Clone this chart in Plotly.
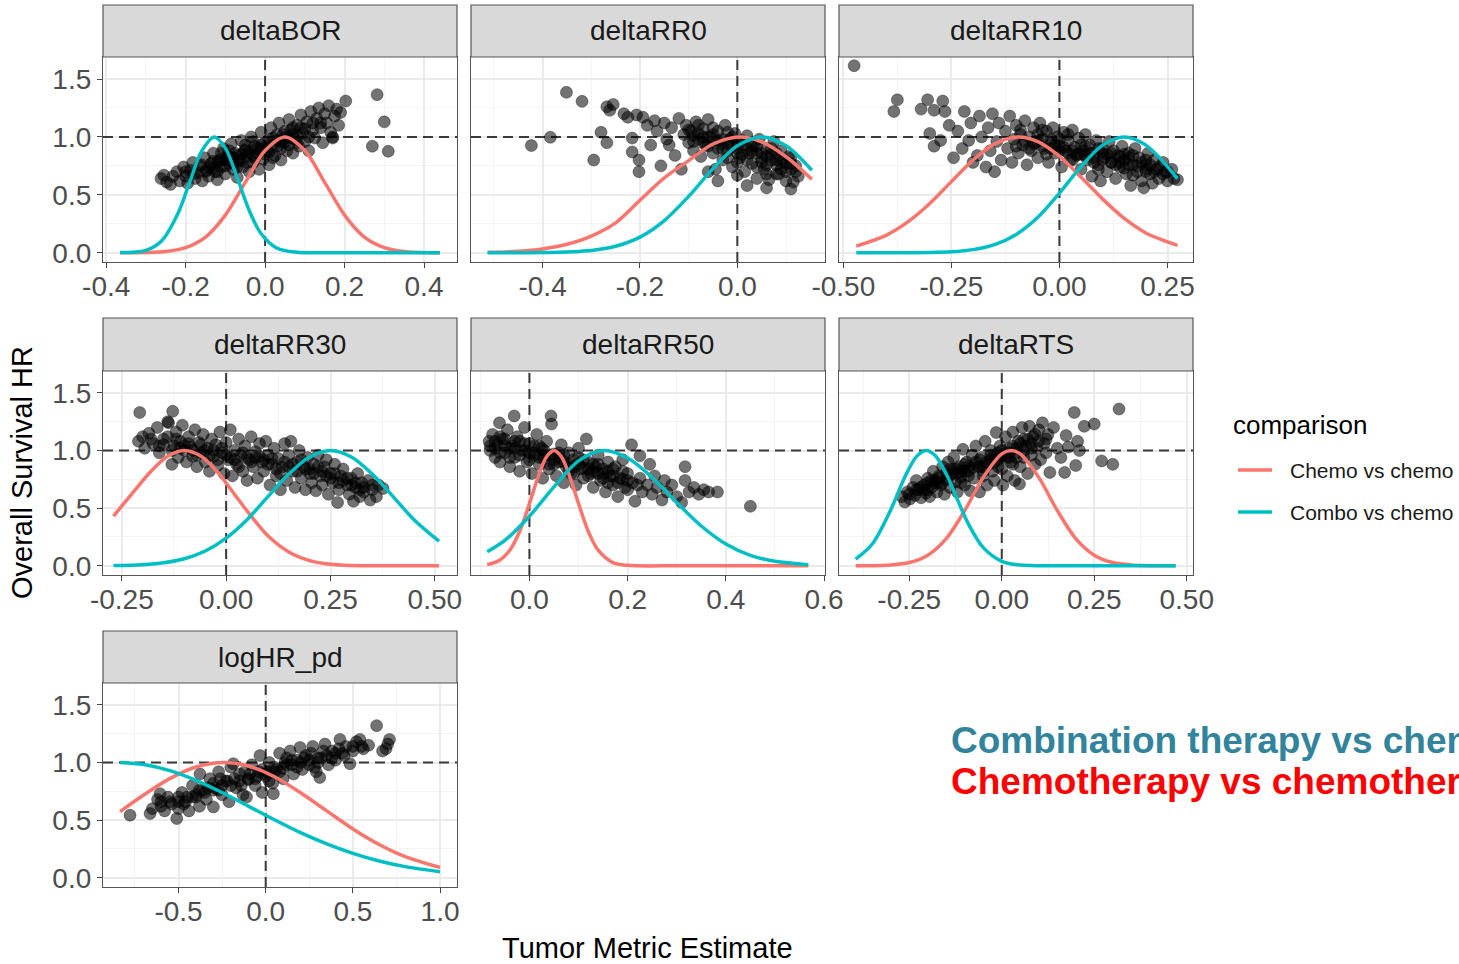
import plotly.graph_objects as go

W, H = 1459, 964
FONT = "Liberation Sans, Arial, sans-serif"
RED = "#F8766D"
TEAL = "#00BFC4"

PANELS = ["deltaBOR", "deltaRR0", "deltaRR10", "deltaRR30", "deltaRR50", "deltaRTS", "logHR_pd"]
SERIES = ["Chemo vs chemo", "Combo vs chemo"]
REF_X = 0.0    # vertical dashed reference (metric = 0)
REF_HR = 1.0   # horizontal dashed reference (HR = 1)

# ---------------- scatter points (x, HR) ----------------
BOR_POINTS = [(-0.262,0.64),(-0.255,0.67),(-0.248,0.61),(-0.238,0.59),(-0.232,0.66),(-0.222,0.70),(-0.215,0.62),(-0.205,0.74),(-0.2,0.66),(-0.195,0.60),
    (-0.188,0.71),(-0.182,0.78),(-0.176,0.64),(-0.17,0.69),(-0.165,0.75),(-0.158,0.62),(-0.152,0.82),(-0.148,0.71),(-0.142,0.66),(-0.136,0.77),
    (-0.13,0.86),(-0.126,0.70),(-0.12,0.63),(-0.115,0.80),(-0.11,0.74),(-0.105,0.90),(-0.1,0.68),(-0.096,0.84),(-0.09,0.77),(-0.085,0.94),
    (-0.08,0.72),(-0.076,0.86),(-0.07,0.65),(-0.066,0.80),(-0.06,0.97),(-0.056,0.74),(-0.05,0.89),(-0.046,0.83),(-0.04,0.70),(-0.035,1.00),
    (-0.03,0.78),(-0.026,0.92),(-0.02,0.86),(-0.015,0.72),(-0.01,1.04),(-0.005,0.81),(0.0,0.95),(0.005,0.88),(0.01,0.76),(0.015,1.08),
    (0.02,0.99),(0.025,0.84),(0.03,0.92),(0.035,1.12),(0.04,0.80),(0.045,1.02),(0.05,0.95),(0.055,0.88),(0.06,1.15),(0.065,1.06),
    (0.07,0.86),(0.075,0.98),(0.08,1.10),(0.085,0.92),(0.09,1.19),(0.095,1.03),(0.1,0.96),(0.105,1.13),(0.11,0.88),(0.115,1.22),
    (0.12,1.06),(0.125,0.99),(0.13,1.16),(0.135,1.25),(0.14,1.08),(0.145,0.95),(0.15,1.20),(0.155,1.12),(0.16,1.27),(0.165,1.04),
    (0.17,1.00),(0.175,1.18),(0.18,1.24),(0.185,1.10),(0.19,1.21),(0.203,1.31),(0.17,0.99),(0.282,1.365),(0.30,1.13),(0.27,0.92),(0.31,0.876),
    (-0.14,0.74),(-0.12,0.78),(-0.1,0.80),(-0.08,0.82),(-0.06,0.85),(-0.04,0.87),(-0.02,0.90),(0.0,0.91),(0.02,0.93),(0.04,0.96),(0.06,0.99),
    (0.08,1.01),(-0.13,0.73),(-0.09,0.83),(-0.05,0.88),(-0.01,0.93),(0.03,0.97),(0.07,1.02),(-0.11,0.86),(-0.07,0.74),(-0.03,0.84),(0.01,0.87),
    (0.05,1.05),(0.09,1.08)]
BOR_CORE = [(-0.2,0.70),(-0.18,0.68),(-0.16,0.76),(-0.15,0.70),(-0.13,0.79),(-0.12,0.70),(-0.11,0.80),(-0.1,0.75),(-0.09,0.88),(-0.08,0.78),
    (-0.07,0.84),(-0.06,0.79),(-0.05,0.93),(-0.045,0.78),(-0.03,0.96),(-0.025,0.82),(-0.01,0.89),(0.0,0.85),(0.01,0.98),(0.02,0.82),
    (0.03,1.02),(0.04,0.90),(0.05,0.99),(0.06,0.93),(0.07,1.08),(0.08,0.95),(0.1,1.07),(0.11,1.00),(0.12,1.12),(0.14,1.12)]

RR0_POINTS = [(-0.423,0.925),(-0.384,0.997),(-0.351,1.385),(-0.319,1.307),(-0.295,0.80),(-0.28,1.04),(-0.268,0.95),(-0.268,1.26),(-0.262,1.23),(-0.255,1.28),
    (-0.233,1.20),(-0.225,1.17),(-0.216,0.99),(-0.216,0.87),(-0.207,1.19),(-0.202,0.80),(-0.202,0.70),(-0.194,1.17),(-0.185,1.10),(-0.178,0.93),
    (-0.17,1.14),(-0.165,1.05),(-0.157,0.75),(-0.15,1.12),(-0.145,0.98),(-0.14,0.93),(-0.135,1.08),(-0.128,0.84),(-0.12,1.16),(-0.115,0.72),(-0.11,1.02),
    (-0.105,1.10),(-0.1,0.95),(-0.095,1.05),(-0.09,0.88),(-0.085,1.13),(-0.08,0.98),(-0.075,0.83),(-0.07,1.07),(-0.065,0.93),(-0.06,1.15),
    (-0.055,1.00),(-0.05,0.86),(-0.045,0.72),(-0.04,1.05),(-0.035,0.94),(-0.03,0.80),(-0.025,1.10),(-0.02,0.88),(-0.015,0.98),(-0.01,0.74),
    (-0.005,1.03),(0.0,0.90),(0.0,0.67),(0.005,0.82),(0.01,0.97),(0.015,0.70),(0.02,1.01),(0.025,0.86),(0.03,0.77),(0.035,0.93),
    (0.04,0.64),(0.045,0.98),(0.05,0.82),(0.055,0.72),(0.06,0.90),(0.065,0.63),(0.07,0.85),(0.075,0.96),(0.08,0.76),(0.085,0.68),
    (0.09,0.88),(0.095,0.80),(0.1,0.62),(0.105,0.83),(0.11,0.72),(0.115,0.61),(0.12,0.75),(0.125,0.66),(-0.06,0.70),(-0.04,0.62),
    (0.02,0.58),(0.06,0.56),(0.11,0.55),(-0.08,1.03),(-0.06,1.00),(-0.04,0.97),(-0.02,0.94),(0.0,0.95),(0.02,0.90),(0.04,0.86),
    (0.06,0.83),(0.08,0.80),(0.10,0.77),(-0.07,0.95),(-0.03,0.90),(0.01,0.85),(0.05,0.78),(0.09,0.72),(-0.05,1.08),(-0.01,1.00),
    (0.03,0.92),(0.07,0.90),(0.11,0.82),(-0.09,1.01),(0.0,0.78),(0.04,0.74),(0.08,0.68)]
RR0_CORE = [(-0.1,1.06),(-0.09,0.96),(-0.08,1.10),(-0.07,1.00),(-0.06,0.92),(-0.05,1.02),(-0.04,0.90),(-0.03,0.98),(-0.02,1.04),(-0.01,0.92),
    (0.0,0.86),(0.01,0.93),(0.02,0.80),(0.03,0.88),(0.04,0.92),(0.05,0.86),(0.06,0.76),(0.07,0.80),(0.08,0.86),(0.09,0.78),
    (0.1,0.70),(0.11,0.77),(0.12,0.70),(-0.02,0.82),(0.06,0.68)]

RR10_POINTS = [(-0.475,1.615),(-0.375,1.32),(-0.383,1.22),(-0.32,1.24),(-0.305,1.32),(-0.29,1.23),(-0.27,1.31),(-0.265,1.22),(-0.3,1.03),(-0.29,0.92),
    (-0.275,0.97),(-0.255,1.10),(-0.245,0.82),(-0.235,1.05),(-0.225,0.90),(-0.22,1.22),(-0.21,0.97),(-0.205,1.12),(-0.2,0.78),(-0.19,0.84),
    (-0.185,1.18),(-0.18,1.00),(-0.17,0.74),(-0.165,1.08),(-0.16,0.88),(-0.155,1.20),(-0.15,0.70),(-0.145,0.96),(-0.14,1.12),(-0.135,0.80),
    (-0.125,1.05),(-0.12,0.90),(-0.115,1.18),(-0.11,0.78),(-0.105,0.98),(-0.1,1.10),(-0.095,0.86),(-0.09,1.02),(-0.085,0.93),(-0.08,1.14),
    (-0.075,0.76),(-0.07,1.00),(-0.065,0.88),(-0.06,1.08),(-0.055,0.95),(-0.05,0.82),(-0.045,1.12),(-0.04,0.98),(-0.035,0.90),(-0.03,1.05),
    (-0.025,0.78),(-0.02,0.94),(-0.015,1.08),(-0.01,0.86),(-0.005,1.00),(0.0,0.92),(0.005,0.74),(0.01,1.04),(0.015,0.88),(0.02,0.97),
    (0.025,0.80),(0.03,1.06),(0.035,0.91),(0.04,0.84),(0.045,0.99),(0.05,0.72),(0.055,0.88),(0.06,1.02),(0.065,0.80),(0.07,0.93),
    (0.075,0.66),(0.08,0.86),(0.085,0.97),(0.09,0.76),(0.095,0.62),(0.1,0.90),(0.105,0.82),(0.11,0.70),(0.115,0.96),(0.12,0.78),
    (0.125,0.88),(0.13,0.64),(0.135,0.84),(0.14,0.74),(0.145,0.92),(0.15,0.80),(0.155,0.68),(0.16,0.86),(0.165,0.58),(0.17,0.76),
    (0.175,0.90),(0.18,0.70),(0.185,0.82),(0.19,0.62),(0.195,0.56),(0.2,0.76),(0.205,0.86),(0.21,0.68),(0.215,0.60),(0.22,0.80),
    (0.225,0.72),(0.23,0.64),(0.24,0.78),(0.245,0.70),(0.25,0.62),(0.26,0.72),(0.265,0.64),(0.273,0.63),
    (-0.08,0.96),(-0.06,0.94),(-0.04,0.92),(-0.02,0.90),(0.0,0.88),(0.02,0.86),(0.04,0.85),(0.06,0.84),(0.08,0.82),(0.10,0.80),
    (0.12,0.78),(0.14,0.78),(0.16,0.76),(0.18,0.75),(0.2,0.72),(0.22,0.70),(-0.05,1.02),(0.0,0.98),(0.05,0.93),(0.1,0.86),
    (0.15,0.85),(0.2,0.80),(-0.03,0.85),(0.03,0.80),(0.09,0.72),(0.17,0.67)]
RR10_CORE = [(-0.1,0.92),(-0.09,1.06),(-0.07,0.90),(-0.05,0.97),(-0.04,1.06),(-0.02,0.98),(-0.01,0.93),(0.01,0.91),(0.02,1.02),(0.03,0.88),
    (0.05,0.85),(0.06,0.92),(0.07,0.86),(0.08,0.78),(0.09,0.90),(0.11,0.85),(0.12,0.86),(0.13,0.76),(0.14,0.83),(0.15,0.73),
    (0.16,0.82),(0.17,0.84),(0.19,0.78),(0.2,0.70),(0.21,0.76),(0.23,0.74),(0.24,0.68),(0.25,0.70)]

RR30_POINTS = [(-0.207,1.33),(-0.21,1.08),(-0.2,1.12),(-0.195,1.02),(-0.185,1.15),(-0.175,1.06),(-0.165,1.20),(-0.16,0.98),(-0.15,1.10),(-0.14,1.25),
    (-0.138,1.24),(-0.128,1.34),(-0.13,0.88),(-0.125,1.04),(-0.12,1.16),(-0.115,0.94),(-0.11,1.08),(-0.105,1.22),(-0.1,1.00),(-0.095,0.90),
    (-0.09,1.12),(-0.085,1.03),(-0.08,0.95),(-0.075,1.18),(-0.07,0.86),(-0.065,1.07),(-0.06,0.98),(-0.055,1.14),(-0.05,0.90),(-0.045,1.02),
    (-0.04,0.82),(-0.035,1.10),(-0.03,0.95),(-0.025,1.05),(-0.02,0.87),(-0.015,1.16),(-0.01,0.98),(-0.005,0.80),(0.0,1.07),(0.005,0.92),
    (0.01,1.18),(0.015,0.78),(0.02,1.00),(0.025,0.88),(0.03,1.10),(0.035,0.96),(0.04,0.82),(0.045,1.04),(0.05,0.74),(0.055,0.92),
    (0.06,1.12),(0.065,0.86),(0.07,0.99),(0.075,0.76),(0.08,1.06),(0.085,0.90),(0.09,0.82),(0.095,1.08),(0.1,0.96),(0.105,0.70),
    (0.11,0.88),(0.115,1.02),(0.12,0.78),(0.125,0.93),(0.13,0.66),(0.135,0.86),(0.14,1.06),(0.145,0.74),(0.15,0.96),(0.155,1.08),
    (0.16,0.82),(0.165,0.68),(0.17,0.90),(0.175,1.00),(0.18,0.76),(0.185,0.86),(0.19,0.66),(0.195,0.94),(0.2,0.80),(0.205,0.72),
    (0.21,0.88),(0.215,0.65),(0.22,0.96),(0.225,0.78),(0.23,0.70),(0.235,0.86),(0.24,0.92),(0.245,0.62),(0.25,0.80),(0.255,0.72),
    (0.26,0.88),(0.267,0.55),(0.27,0.66),(0.275,0.78),(0.28,0.84),(0.29,0.70),(0.295,0.62),(0.3,0.76),(0.305,0.56),(0.31,0.68),
    (0.315,0.80),(0.32,0.60),(0.325,0.72),(0.33,0.64),(0.34,0.74),(0.345,0.57),(0.35,0.66),(0.36,0.60),(0.365,0.70),(0.376,0.67),
    (-0.15,1.05),(-0.1,1.04),(-0.05,1.00),(0.0,0.96),(0.05,0.94),(0.1,0.88),(0.15,0.86),(0.2,0.84),(0.25,0.76),(0.3,0.70),
    (-0.12,1.10),(-0.02,0.92),(0.08,0.95),(0.18,0.92),(0.28,0.74),(-0.07,0.96),(0.03,0.86),(0.13,0.80),(0.23,0.82),(0.33,0.68)]
RR30_CORE = [(-0.18,1.10),(-0.16,1.04),(-0.14,1.12),(-0.13,1.00),(-0.11,1.02),(-0.09,1.06),(-0.08,1.00),(-0.06,1.05),(-0.04,0.96),(-0.03,1.00),
    (-0.01,1.02),(0.01,0.94),(0.02,0.92),(0.04,0.98),(0.06,0.90),(0.07,0.94),(0.09,0.92),(0.11,0.93),(0.12,0.84),(0.14,0.90),
    (0.16,0.88),(0.17,0.82),(0.19,0.84),(0.21,0.80),(0.22,0.86),(0.24,0.78),(0.26,0.80),(0.27,0.72),(0.29,0.76),(0.31,0.72),
    (0.32,0.66),(0.35,0.70)]

RR50_POINTS = [(-0.082,1.08),(-0.08,1.00),(-0.075,1.14),(-0.07,0.94),(-0.065,1.05),(-0.061,1.24),(-0.06,0.90),(-0.055,1.10),(-0.05,0.98),(-0.045,1.18),
    (-0.04,0.86),(-0.035,1.04),(-0.031,1.30),(-0.03,0.94),(-0.025,1.12),(-0.02,0.82),(-0.015,1.00),(-0.01,1.20),(-0.005,0.90),(0.0,1.06),
    (0.005,0.80),(0.01,0.96),(0.015,1.14),(0.02,0.88),(0.025,1.02),(0.027,0.76),(0.03,0.93),(0.035,1.08),(0.04,0.84),(0.044,1.30),
    (0.045,1.23),(0.05,0.97),(0.055,0.78),(0.06,0.90),(0.065,1.05),(0.07,0.72),(0.075,0.86),(0.08,0.98),(0.085,0.80),(0.09,0.92),
    (0.095,0.70),(0.1,1.02),(0.105,0.84),(0.11,0.76),(0.116,1.10),(0.12,0.90),(0.125,0.80),(0.13,0.68),(0.135,0.86),(0.14,0.96),
    (0.145,0.74),(0.15,0.84),(0.155,0.64),(0.16,0.90),(0.165,0.78),(0.17,0.70),(0.175,0.86),(0.18,0.60),(0.185,0.76),(0.19,0.92),
    (0.195,0.68),(0.2,0.80),(0.208,1.05),(0.21,0.72),(0.215,0.56),(0.225,0.955),(0.225,0.76),(0.23,0.64),(0.24,0.70),(0.245,0.88),
    (0.25,0.62),(0.255,0.78),(0.26,0.68),(0.27,0.57),(0.275,0.74),(0.28,0.64),(0.29,0.70),(0.3,0.60),(0.31,0.55),(0.317,0.86),
    (0.317,0.74),(0.325,0.64),(0.335,0.68),(0.345,0.62),(0.355,0.66),(0.365,0.64),(0.383,0.64),(0.45,0.516),
    (-0.07,1.02),(-0.05,1.04),(-0.03,1.02),(-0.01,1.00),(0.01,0.98),(0.03,0.96),(0.05,0.92),(0.07,0.90),(0.09,0.86),(0.11,0.85),
    (0.13,0.82),(0.15,0.80),(0.17,0.78),(0.19,0.75),(-0.06,1.12),(-0.02,1.08),(0.02,1.04),(0.06,0.98),(0.1,0.94),(0.14,0.88),
    (-0.04,0.94),(0.0,0.92),(0.04,0.88),(0.08,0.82),(0.12,0.78),(0.16,0.72),(0.2,0.66)]
RR50_CORE = [(-0.08,1.04),(-0.07,1.08),(-0.06,0.98),(-0.05,1.10),(-0.04,1.02),(-0.03,1.08),(-0.02,0.96),(-0.01,1.06),(0.0,0.98),(0.01,1.04),
    (0.02,0.94),(0.03,1.00),(0.04,0.96),(0.05,0.88),(0.06,0.94),(0.07,0.96),(0.08,0.88),(0.09,0.80),(0.1,0.88),(0.11,0.92),
    (0.12,0.84),(0.13,0.88),(0.14,0.80),(0.15,0.76),(0.16,0.82),(0.17,0.84),(0.18,0.72),(0.19,0.82),(0.2,0.74),(0.22,0.70)]

RTS_POINTS = [(-0.27,0.60),(-0.262,0.553),(-0.255,0.64),(-0.248,0.58),(-0.24,0.68),(-0.235,0.61),(-0.231,0.74),(-0.225,0.66),(-0.218,0.59),(-0.21,0.70),
    (-0.205,0.63),(-0.2,0.76),(-0.195,0.60),(-0.19,0.68),(-0.185,0.82),(-0.18,0.72),(-0.175,0.64),(-0.17,0.78),(-0.165,0.70),(-0.16,0.86),
    (-0.155,0.62),(-0.15,0.75),(-0.145,0.90),(-0.14,0.68),(-0.135,0.80),(-0.13,0.94),(-0.125,0.73),(-0.12,0.64),(-0.115,0.86),(-0.11,0.77),
    (-0.105,1.01),(-0.1,0.70),(-0.095,0.90),(-0.09,0.82),(-0.085,0.65),(-0.08,0.96),(-0.075,0.76),(-0.07,1.04),(-0.065,0.86),(-0.06,0.64),
    (-0.055,0.94),(-0.05,0.78),(-0.045,1.08),(-0.04,0.70),(-0.035,0.88),(-0.03,1.00),(-0.025,0.82),(-0.02,0.74),(-0.015,1.156),(-0.01,0.92),
    (-0.005,1.04),(0.0,0.84),(0.003,0.70),(0.005,0.96),(0.01,1.12),(0.015,0.78),(0.02,1.02),(0.025,0.90),(0.03,1.16),(0.035,0.74),
    (0.04,0.98),(0.045,1.08),(0.048,0.71),(0.05,0.86),(0.055,1.20),(0.06,0.94),(0.065,1.04),(0.07,0.80),(0.075,1.21),(0.08,0.96),
    (0.085,1.12),(0.09,0.88),(0.095,1.02),(0.1,1.18),(0.105,0.92),(0.11,1.24),(0.115,1.06),(0.12,0.98),(0.125,1.14),(0.13,0.81),
    (0.14,1.20),(0.15,1.02),(0.16,0.94),(0.17,0.81),(0.174,1.13),(0.18,1.03),(0.196,1.33),(0.2,0.87),(0.205,1.08),(0.21,1.00),
    (0.223,1.21),(0.25,1.23),(0.27,0.91),(0.3,0.88),(0.317,1.36),
    (-0.22,0.68),(-0.18,0.74),(-0.14,0.78),(-0.1,0.82),(-0.06,0.86),(-0.02,0.90),(0.02,0.94),(0.06,1.00),(-0.2,0.66),(-0.16,0.72),
    (-0.12,0.80),(-0.08,0.85),(-0.04,0.90),(0.0,0.95),(0.04,1.02),(0.08,1.06),(-0.17,0.76),(-0.13,0.84),(-0.09,0.78),(-0.05,0.82),
    (-0.01,0.86),(0.03,0.88),(-0.11,0.72),(-0.03,0.96)]
RTS_CORE = [(-0.25,0.62),(-0.23,0.66),(-0.21,0.66),(-0.2,0.72),(-0.19,0.74),(-0.17,0.72),(-0.15,0.80),(-0.14,0.84),(-0.12,0.84),(-0.11,0.82),
    (-0.1,0.88),(-0.09,0.86),(-0.07,0.90),(-0.06,0.92),(-0.05,0.86),(-0.03,0.92),(-0.02,0.96),(-0.01,0.98),(0.0,1.00),(0.01,0.94),
    (0.02,0.98),(0.03,1.04),(0.04,0.94),(0.05,1.06),(0.06,1.10),(0.07,1.10),(0.08,1.02),(0.09,1.14),(0.1,1.08),(0.12,1.10)]

LOGHR_POINTS = [(-0.778,0.543),(-0.663,0.557),(-0.65,0.60),(-0.62,0.68),(-0.606,0.73),(-0.6,0.62),(-0.58,0.58),(-0.56,0.70),(-0.54,0.64),(-0.51,0.514),
    (-0.5,0.60),(-0.48,0.74),(-0.46,0.66),(-0.44,0.58),(-0.42,0.80),(-0.4,0.70),(-0.38,0.62),(-0.377,0.90),(-0.36,0.76),(-0.34,0.68),
    (-0.32,0.86),(-0.3,0.615),(-0.29,0.78),(-0.27,0.92),(-0.25,0.72),(-0.23,0.84),(-0.21,0.66),(-0.2,0.96),(-0.186,0.99),(-0.17,0.78),
    (-0.15,0.90),(-0.13,0.72),(-0.11,0.70),(-0.1,0.86),(-0.08,0.98),(-0.06,0.80),(-0.04,0.92),(-0.033,1.06),(-0.02,0.74),(0.0,0.88),
    (0.02,1.00),(0.04,0.82),(0.044,0.73),(0.06,0.94),(0.08,1.08),(0.1,0.86),(0.12,0.98),(0.14,1.10),(0.16,0.90),(0.18,1.02),
    (0.197,1.13),(0.21,0.94),(0.23,1.06),(0.25,0.98),(0.27,1.14),(0.29,0.92),(0.31,0.87),(0.32,1.04),(0.34,1.16),(0.36,0.98),
    (0.38,1.10),(0.4,1.02),(0.426,1.20),(0.44,1.08),(0.46,1.14),(0.483,0.99),(0.5,1.10),(0.52,1.18),(0.54,1.20),(0.56,1.12),
    (0.59,1.15),(0.636,1.32),(0.69,1.12),(0.71,1.2),(0.7,1.16),(0.67,1.10),
    (-0.5,0.66),(-0.4,0.72),(-0.3,0.76),(-0.2,0.80),(-0.1,0.85),(0.0,0.90),(0.1,0.95),(0.2,1.00),(0.3,1.04),(0.4,1.08),
    (-0.45,0.70),(-0.35,0.74),(-0.25,0.80),(-0.15,0.84),(-0.05,0.88),(0.05,0.92),(0.15,0.98),(0.25,1.02),(0.35,1.06),(-0.26,0.86),
    (-0.12,0.92),(0.02,0.84),(0.12,1.04),(0.28,0.96)]
LOGHR_CORE = [(-0.6,0.66),(-0.55,0.66),(-0.5,0.70),(-0.47,0.64),(-0.42,0.70),(-0.38,0.76),(-0.33,0.78),(-0.3,0.82),(-0.27,0.76),(-0.22,0.84),
    (-0.18,0.86),(-0.14,0.80),(-0.09,0.90),(-0.06,0.86),(-0.02,0.94),(0.01,0.92),(0.05,0.96),(0.08,0.92),(0.11,1.00),(0.15,1.02),
    (0.18,0.96),(0.22,1.04),(0.26,1.08),(0.3,1.00),(0.33,1.10),(0.38,1.04),(0.42,1.12),(0.45,1.06),(0.5,1.14),(0.55,1.14)]

# ---------------- density curves (scaled to max 1) ----------------
BOR_RED_X = [-0.365,-0.3,-0.25,-0.2,-0.15,-0.1,-0.05,0.0,0.05,0.1,0.15,0.2,0.25,0.3,0.35,0.44]
BOR_RED_Y = [0.0,0.002,0.011,0.044,0.135,0.325,0.607,0.882,1.0,0.882,0.607,0.325,0.135,0.044,0.011,0.0]
BOR_TEAL_X = [-0.365,-0.3,-0.26,-0.22,-0.19,-0.16,-0.128,-0.1,-0.07,-0.04,-0.01,0.03,0.08,0.15,0.25,0.44]
BOR_TEAL_Y = [0.001,0.021,0.104,0.334,0.607,0.875,1.0,0.903,0.646,0.365,0.164,0.039,0.004,0.0,0.0,0.0]

RR0_RED_X = [-0.513,-0.45,-0.4,-0.35,-0.3,-0.25,-0.2,-0.15,-0.1,-0.05,0.005,0.05,0.1,0.153]
RR0_RED_Y = [0.004,0.013,0.033,0.073,0.144,0.258,0.453,0.646,0.795,0.939,1.0,0.958,0.829,0.634]
RR0_TEAL_X = [-0.513,-0.4,-0.3,-0.25,-0.2,-0.15,-0.1,-0.05,0.0,0.05,0.1,0.153]
RR0_TEAL_Y = [0.0,0.0015,0.02,0.056,0.135,0.278,0.487,0.726,0.923,1.0,0.923,0.712]

RR10_RED_X = [-0.47,-0.4,-0.35,-0.3,-0.25,-0.2,-0.15,-0.095,-0.05,0.0,0.05,0.1,0.15,0.2,0.273]
RR10_RED_Y = [0.057,0.152,0.268,0.425,0.614,0.80,0.94,1.0,0.96,0.833,0.652,0.463,0.296,0.171,0.064]
RR10_TEAL_X = [-0.47,-0.35,-0.3,-0.25,-0.2,-0.15,-0.1,-0.05,0.0,0.05,0.1,0.15,0.2,0.273]
RR10_TEAL_Y = [0.0,0.0006,0.0025,0.0087,0.027,0.07,0.158,0.306,0.515,0.744,0.929,1.0,0.929,0.64]

RR30_RED_X = [-0.27,-0.22,-0.18,-0.14,-0.1,-0.06,-0.02,0.02,0.06,0.1,0.15,0.2,0.25,0.3,0.4,0.51]
RR30_RED_Y = [0.43,0.65,0.82,0.95,1.0,0.95,0.81,0.62,0.43,0.26,0.12,0.045,0.013,0.003,0.0,0.0]
RR30_TEAL_X = [-0.27,-0.2,-0.15,-0.1,-0.05,0.0,0.05,0.1,0.15,0.2,0.25,0.3,0.35,0.4,0.45,0.51]
RR30_TEAL_Y = [0.002,0.01,0.026,0.061,0.128,0.24,0.40,0.60,0.796,0.944,1.0,0.944,0.796,0.60,0.40,0.213]

RR50_RED_X = [-0.086,-0.06,-0.04,-0.02,0.0,0.02,0.035,0.05,0.065,0.08,0.1,0.12,0.14,0.17,0.2,0.3,0.45,0.568]
RR50_RED_Y = [0.01,0.051,0.135,0.297,0.54,0.80,0.946,1.0,0.946,0.80,0.54,0.297,0.135,0.028,0.004,0.0,0.0,0.0]
RR50_TEAL_X = [-0.086,-0.05,0.0,0.05,0.1,0.15,0.2,0.25,0.3,0.35,0.4,0.45,0.5,0.568]
RR50_TEAL_Y = [0.122,0.22,0.43,0.685,0.91,1.0,0.935,0.766,0.549,0.345,0.189,0.091,0.039,0.01]

RTS_RED_X = [-0.395,-0.3,-0.25,-0.2,-0.15,-0.1,-0.05,0.0,0.025,0.05,0.1,0.15,0.2,0.25,0.3,0.35,0.47]
RTS_RED_Y = [0.0,0.007,0.028,0.092,0.236,0.48,0.767,0.971,1.0,0.971,0.767,0.48,0.236,0.092,0.028,0.007,0.0]
RTS_TEAL_X = [-0.395,-0.35,-0.3,-0.26,-0.23,-0.204,-0.18,-0.15,-0.12,-0.09,-0.05,0.0,0.05,0.15,0.3,0.47]
RTS_TEAL_Y = [0.058,0.189,0.487,0.783,0.949,1.0,0.956,0.796,0.576,0.362,0.157,0.039,0.0065,0.0,0.0,0.0]

LOGHR_RED_X = [-0.835,-0.7,-0.55,-0.4,-0.24,-0.1,0.05,0.2,0.35,0.5,0.65,0.8,1.0]
LOGHR_RED_Y = [0.574,0.718,0.86,0.961,1.0,0.97,0.877,0.738,0.58,0.424,0.289,0.184,0.09]
LOGHR_TEAL_X = [-0.835,-0.7,-0.55,-0.4,-0.25,-0.1,0.05,0.2,0.35,0.5,0.65,0.8,1.0]
LOGHR_TEAL_Y = [1.0,0.983,0.93,0.846,0.74,0.622,0.504,0.392,0.294,0.212,0.146,0.097,0.053]

POINTS = [BOR_POINTS + BOR_CORE, RR0_POINTS + RR0_CORE, RR10_POINTS + RR10_CORE, RR30_POINTS + RR30_CORE,
          RR50_POINTS + RR50_CORE, RTS_POINTS + RTS_CORE, LOGHR_POINTS + LOGHR_CORE]
RED_CURVES = [(BOR_RED_X, BOR_RED_Y), (RR0_RED_X, RR0_RED_Y), (RR10_RED_X, RR10_RED_Y), (RR30_RED_X, RR30_RED_Y),
              (RR50_RED_X, RR50_RED_Y), (RTS_RED_X, RTS_RED_Y), (LOGHR_RED_X, LOGHR_RED_Y)]
TEAL_CURVES = [(BOR_TEAL_X, BOR_TEAL_Y), (RR0_TEAL_X, RR0_TEAL_Y), (RR10_TEAL_X, RR10_TEAL_Y), (RR30_TEAL_X, RR30_TEAL_Y),
               (RR50_TEAL_X, RR50_TEAL_Y), (RTS_TEAL_X, RTS_TEAL_Y), (LOGHR_TEAL_X, LOGHR_TEAL_Y)]

# ---------------- axes ----------------
X_RANGES = [[-0.408, 0.483], [-0.547, 0.18], [-0.51, 0.309], [-0.295, 0.553], [-0.119, 0.602], [-0.44, 0.517], [-0.933, 1.097]]
X_TICKS = [[-0.4, -0.2, 0.0, 0.2, 0.4], [-0.4, -0.2, 0.0], [-0.5, -0.25, 0.0, 0.25], [-0.25, 0.0, 0.25, 0.5],
           [0.0, 0.2, 0.4, 0.6], [-0.25, 0.0, 0.25, 0.5], [-0.5, 0.0, 0.5, 1.0]]
X_LABELS = [["-0.4", "-0.2", "0.0", "0.2", "0.4"], ["-0.4", "-0.2", "0.0"], ["-0.50", "-0.25", "0.00", "0.25"],
            ["-0.25", "0.00", "0.25", "0.50"], ["0.0", "0.2", "0.4", "0.6"], ["-0.25", "0.00", "0.25", "0.50"],
            ["-0.5", "0.0", "0.5", "1.0"]]
X_MINOR = [[-0.3, -0.1, 0.1, 0.3], [-0.5, -0.3, -0.1, 0.1], [-0.375, -0.125, 0.125], [-0.125, 0.125, 0.375],
           [-0.1, 0.1, 0.3, 0.5], [-0.375, -0.125, 0.125, 0.375], [-0.75, -0.25, 0.25, 0.75]]
Y_RANGE = [-0.08, 1.69]
Y_TICKS = [0.0, 0.5, 1.0, 1.5]
Y_LABELS = ["0.0", "0.5", "1.0", "1.5"]
Y_MINOR = [0.25, 0.75, 1.25]

# pixel layout of panels
COL_PX = [(103, 457), (471, 825), (839, 1193)]
ROW_PX = [(57, 262), (371, 575), (683, 887)]   # plot areas (top, bottom)
STRIP_TOP = [5, 318, 631]

def px_x(p):
    return p / W

def px_y(p):
    return 1 - p / H

fig = go.Figure()
layout = {}
shapes = []
annotations = []
DASH = dict(color="#3A3A3A", width=2, dash="10px,6px")

for i, name in enumerate(PANELS):
    r, c = divmod(i, 3)
    sx = "" if i == 0 else str(i + 1)
    xref, yref = "x" + sx, "y" + sx
    # dashed reference lines
    fig.add_trace(go.Scatter(x=[REF_X, REF_X], y=Y_RANGE, mode="lines", line=DASH,
                             xaxis=xref, yaxis=yref, showlegend=False, hoverinfo="skip"))
    fig.add_trace(go.Scatter(x=X_RANGES[i], y=[REF_HR, REF_HR], mode="lines", line=DASH,
                             xaxis=xref, yaxis=yref, showlegend=False, hoverinfo="skip"))
    pts = POINTS[i]
    fig.add_trace(go.Scatter(
        x=[p[0] for p in pts], y=[p[1] for p in pts], mode="markers",
        marker=dict(size=12, color="rgba(0,0,0,0.55)", line=dict(width=1, color="rgba(0,0,0,0.35)")),
        xaxis=xref, yaxis=yref, showlegend=False, hoverinfo="skip"))
    for (cx, cy), col, nm in [(RED_CURVES[i], RED, SERIES[0]), (TEAL_CURVES[i], TEAL, SERIES[1])]:
        fig.add_trace(go.Scatter(x=cx, y=cy, mode="lines", line=dict(color=col, width=3.5, shape="spline", smoothing=0.9),
                                 xaxis=xref, yaxis=yref, showlegend=False, name=nm, hoverinfo="skip"))

    common = dict(showline=True, mirror=True, linecolor="#555555", linewidth=1.2, zeroline=False,
                  showgrid=True, gridcolor="#EBEBEB", gridwidth=1.5, automargin=False,
                  ticks="outside", ticklen=5, tickwidth=1.2, tickcolor="#444444",
                  tickfont=dict(family=FONT, size=28, color="#4D4D4D"))
    layout["xaxis" + sx] = dict(common, domain=[px_x(COL_PX[c][0]), px_x(COL_PX[c][1])], anchor=yref,
                               range=X_RANGES[i], tickmode="array", tickvals=X_TICKS[i], ticktext=X_LABELS[i],
                               ticklabelstandoff=-6,
                               minor=dict(tickvals=X_MINOR[i], showgrid=True, gridcolor="#F4F4F4", gridwidth=1, ticks=""))
    ya = dict(common, domain=[px_y(ROW_PX[r][1]), px_y(ROW_PX[r][0])], anchor=xref,
              range=Y_RANGE, tickmode="array", tickvals=Y_TICKS, ticktext=Y_LABELS,
              minor=dict(tickvals=Y_MINOR, showgrid=True, gridcolor="#F4F4F4", gridwidth=1, ticks=""))
    if c != 0:
        ya.update(showticklabels=False, ticks="")
    layout["yaxis" + sx] = ya

    # strip
    shapes.append(dict(type="rect", xref="paper", yref="paper",
                       x0=px_x(COL_PX[c][0]), x1=px_x(COL_PX[c][1]),
                       y0=px_y(ROW_PX[r][0]), y1=px_y(STRIP_TOP[r]),
                       fillcolor="#D9D9D9", line=dict(color="#555555", width=1.2), layer="above"))
    annotations.append(dict(text=name, xref="paper", yref="paper",
                            x=px_x((COL_PX[c][0] + COL_PX[c][1]) / 2), y=px_y((STRIP_TOP[r] + ROW_PX[r][0]) / 2),
                            xanchor="center", yanchor="middle", showarrow=False,
                            font=dict(family=FONT, size=28, color="#1A1A1A")))

# axis titles
annotations.append(dict(text="Overall Survival HR", xref="paper", yref="paper", x=px_x(22), y=px_y(473),
                        textangle=-90, showarrow=False, xanchor="center", yanchor="middle",
                        font=dict(family=FONT, size=29, color="#000000")))
annotations.append(dict(text="Tumor Metric Estimate", xref="paper", yref="paper", x=px_x(647), y=px_y(948),
                        showarrow=False, xanchor="center", yanchor="middle",
                        font=dict(family=FONT, size=29, color="#000000")))

# legend (drawn manually, ggplot style)
annotations.append(dict(text="comparison", xref="paper", yref="paper", x=px_x(1231), y=px_y(425),
                        showarrow=False, xanchor="left", yanchor="middle",
                        font=dict(family=FONT, size=26, color="#000000")))
for k, (nm, col) in enumerate(zip(SERIES, [RED, TEAL])):
    yy = 470 + 42 * k
    shapes.append(dict(type="line", xref="paper", yref="paper", x0=px_x(1238), x1=px_x(1272),
                       y0=px_y(yy), y1=px_y(yy), line=dict(color=col, width=3.5), layer="above"))
    annotations.append(dict(text=nm, xref="paper", yref="paper", x=px_x(1288), y=px_y(yy),
                            showarrow=False, xanchor="left", yanchor="middle",
                            font=dict(family=FONT, size=21, color="#1A1A1A")))

# overlay captions (cut off at the right edge, as in the original slide)
annotations.append(dict(text="<b>Combination therapy vs chemotherapy</b>", xref="paper", yref="paper",
                        x=px_x(949), y=px_y(740), showarrow=False, xanchor="left", yanchor="middle",
                        font=dict(family=FONT, size=37, color="#31849B")))
annotations.append(dict(text="<b>Chemotherapy vs chemotherapy</b>", xref="paper", yref="paper",
                        x=px_x(949), y=px_y(781), showarrow=False, xanchor="left", yanchor="middle",
                        font=dict(family=FONT, size=37, color="#FF0000")))

fig.update_layout(**layout)
fig.update_layout(width=W, height=H, margin=dict(l=0, r=0, t=0, b=0, autoexpand=False),
                  paper_bgcolor="white", plot_bgcolor="white",
                  shapes=shapes, annotations=annotations, showlegend=False, font=dict(family=FONT))
fig.write_html("out.html", config={"displayModeBar": False})
